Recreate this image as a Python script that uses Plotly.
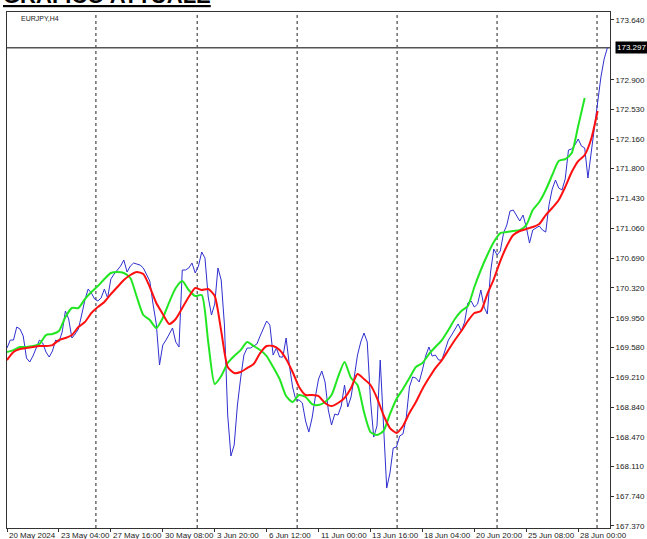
import numpy as np
import plotly.graph_objects as go

# ---- data (EURJPY H4 closes, one value per bar) ----
close = [
    169.575, 169.674, 169.674, 169.835, 169.811, 169.724, 169.451, 169.402, 169.476, 169.588,
    169.674, 169.637, 169.526, 169.464, 169.538, 169.674, 169.650, 169.773, 170.034, 169.935,
    169.699, 169.749, 169.811, 169.984, 170.170, 170.306, 170.257, 170.182, 170.158, 170.195,
    170.306, 170.195, 170.430, 170.492, 170.542, 170.591, 170.666, 170.517, 170.591, 170.628,
    170.616, 170.604, 170.567, 170.480, 170.405, 170.120, 169.873, 169.365, 169.612, 169.674,
    169.749, 169.823, 169.650, 169.588, 170.542, 170.542, 170.567, 170.628, 170.505, 170.591,
    170.765, 170.690, 170.207, 169.984, 170.120, 170.567, 170.418, 169.860, 168.745, 168.237,
    168.373, 168.869, 169.203, 169.488, 169.575, 169.575, 169.600, 169.625, 169.724, 169.823,
    169.910, 169.860, 169.488, 169.575, 169.464, 169.464, 169.699, 169.365, 169.092, 168.931,
    168.931, 168.894, 168.671, 168.534, 168.708, 168.968, 169.191, 169.290, 169.154, 168.807,
    168.621, 168.757, 168.745, 168.857, 169.117, 168.844, 168.968, 169.216, 169.488, 169.650,
    169.761, 169.650, 168.931, 168.472, 168.609, 169.426, 168.683, 167.840, 168.026, 168.336,
    168.348, 168.485, 168.510, 168.708, 169.092, 169.216, 169.203, 169.154, 169.303, 169.476,
    169.588, 169.476, 169.488, 169.426, 169.426, 169.538, 169.674, 169.736, 169.798, 169.873,
    169.786, 169.897, 170.133, 170.158, 170.083, 170.120, 170.294, 170.083, 169.997, 170.517,
    170.802, 170.728, 170.777, 171.000, 171.099, 171.273, 171.285, 171.223, 171.149, 171.223,
    171.075, 170.876, 171.037, 171.062, 171.087, 171.037, 171.012, 171.347, 171.545, 171.657,
    171.558, 171.533, 171.669, 172.029, 172.041, 172.091, 172.165, 172.078, 172.054, 171.682,
    172.004, 172.277, 172.586, 172.933, 173.157, 173.297,
]

# fast moving average (green), one value every 2 bars
ma_fast = [
    169.526, 169.550, 169.588, 169.588, 169.600, 169.625, 169.736, 169.749, 169.786, 169.959,
    170.071, 170.071, 170.182, 170.269, 170.343, 170.430, 170.505, 170.517, 170.505, 170.443,
    170.207, 169.984, 169.922, 169.823, 169.947, 170.145, 170.319, 170.405, 170.294, 170.220,
    170.232, 169.650, 169.129, 169.228, 169.389, 169.476, 169.550, 169.650, 169.600, 169.550,
    169.476, 169.340, 169.191, 168.980, 168.906, 168.993, 168.968, 168.881, 168.869, 168.906,
    168.993, 169.216, 169.402, 169.203, 169.117, 168.782, 168.534, 168.497, 168.547, 168.757,
    168.943, 169.067, 169.203, 169.340, 169.389, 169.501, 169.588, 169.674, 169.798, 169.935,
    170.034, 170.096, 170.331, 170.542, 170.728, 170.889, 171.000, 171.013, 171.025, 171.037,
    171.099, 171.285, 171.384, 171.533, 171.719, 171.892, 171.917, 171.992, 172.326, 172.673,
]

# slow moving average (red), one value every 2 bars
ma_slow = [
    169.426, 169.526, 169.563, 169.575, 169.588, 169.600, 169.600, 169.612, 169.674, 169.699,
    169.736, 169.835, 169.897, 170.009, 170.083, 170.145, 170.244, 170.331, 170.418, 170.480,
    170.517, 170.492, 170.331, 170.133, 169.997, 169.873, 169.935, 170.071, 170.207, 170.319,
    170.294, 170.306, 170.220, 169.786, 169.340, 169.265, 169.278, 169.327, 169.377, 169.513,
    169.600, 169.600, 169.550, 169.439, 169.278, 169.092, 168.993, 168.993, 168.980, 168.894,
    168.856, 168.894, 168.956, 169.080, 169.253, 169.191, 169.117, 168.956, 168.745, 168.584,
    168.522, 168.609, 168.770, 168.906, 169.067, 169.203, 169.327, 169.426, 169.550, 169.674,
    169.786, 169.910, 170.009, 170.034, 170.244, 170.430, 170.653, 170.839, 170.975, 171.025,
    171.050, 171.075, 171.112, 171.223, 171.310, 171.409, 171.570, 171.756, 171.892, 171.967,
    172.165, 172.512,
]

price_ticks = [173.640, 172.900, 172.530, 172.160, 171.800, 171.430, 171.060, 170.690,
               170.320, 169.950, 169.580, 169.210, 168.840, 168.470, 168.110, 167.740, 167.370]

time_labels = ["20 May 2024", "23 May 04:00", "27 May 16:00", "30 May 08:00", "3 Jun 20:00",
               "6 Jun 12:00", "11 Jun 00:00", "13 Jun 16:00", "18 Jun 04:00", "20 Jun 20:00",
               "25 Jun 08:00", "28 Jun 00:00"]
BARS_PER_LABEL = 16
grid_bars = [27.4, 58.6, 89.4, 120.2, 151.0, 181.8]  # week separators (bar positions)

current_price = close[-1]

# ---- figure ----
x_close = np.arange(len(close))
x_fast = np.arange(len(ma_fast)) * 2
x_slow = np.arange(len(ma_slow)) * 2
tick_bars = [i * BARS_PER_LABEL for i in range(len(time_labels))]

FONT = "Liberation Sans, Arial"

fig = go.Figure()
fig.add_trace(go.Scatter(x=x_close, y=close, mode="lines",
                         line=dict(color="#2f2fd0", width=1), hoverinfo="skip"))
fig.add_trace(go.Scatter(x=x_fast, y=ma_fast, mode="lines",
                         line=dict(color="#22e622", width=2, shape="spline", smoothing=0.6),
                         hoverinfo="skip"))
fig.add_trace(go.Scatter(x=x_slow, y=ma_slow, mode="lines",
                         line=dict(color="#ff1010", width=2, shape="spline", smoothing=0.6),
                         hoverinfo="skip"))

shapes = []
for gb in grid_bars:
    shapes.append(dict(type="line", xref="x", yref="paper", x0=gb, x1=gb, y0=0, y1=1,
                       line=dict(color="#222222", width=1, dash="dot"), layer="below"))
shapes.append(dict(type="line", xref="paper", yref="y", x0=0, x1=1,
                   y0=current_price, y1=current_price,
                   line=dict(color="#555555", width=1.5), layer="below"))

annotations = []
for tb, lab in zip(tick_bars, time_labels):
    annotations.append(dict(x=tb, y=0, xref="x", yref="paper", text=lab, showarrow=False,
                            xanchor="left", yanchor="top", xshift=0, yshift=-1,
                            font=dict(family=FONT, size=8, color="#222222")))
annotations.append(dict(x=0.02, y=1, xref="paper", yref="paper", text="EURJPY,H4",
                        showarrow=False, xanchor="left", yanchor="top", yshift=-1,
                        font=dict(family=FONT, size=7, color="#222222")))
annotations.append(dict(x=1, y=current_price, xref="paper", yref="y",
                        text="%.3f" % current_price, showarrow=False,
                        xanchor="left", yanchor="middle", xshift=5,
                        bgcolor="#000000", borderpad=1,
                        font=dict(family=FONT, size=8, color="#ffffff")))
annotations.append(dict(x=0, y=1, xref="paper", yref="paper",
                        text="<b><u>GRAFICO ATTUALE</u></b>", showarrow=False,
                        xanchor="left", yanchor="bottom", xshift=-6, yshift=2,
                        font=dict(family=FONT, size=22, color="#000000")))

fig.update_layout(
    width=647, height=539,
    margin=dict(l=7, r=37, t=12, b=11, autoexpand=False),
    paper_bgcolor="white", plot_bgcolor="white",
    showlegend=False,
    shapes=shapes,
    annotations=annotations,
    xaxis=dict(range=[0, 185.8], showgrid=False, zeroline=False, automargin=False,
               showline=True, linecolor="#333333", linewidth=1, mirror=True,
               ticks="outside", ticklen=3, tickcolor="#333333",
               tickvals=tick_bars, showticklabels=False),
    yaxis=dict(range=[167.345, 173.739], side="right", showgrid=False, zeroline=False,
               automargin=False,
               showline=True, linecolor="#333333", linewidth=1, mirror=True,
               ticks="outside", ticklen=3, tickcolor="#333333",
               tickvals=price_ticks, ticktext=["%.3f" % v for v in price_ticks],
               tickfont=dict(family=FONT, size=8, color="#222222")),
)

fig.write_html("out.html", config={"displayModeBar": False},
               post_script="document.body.style.margin='0';document.body.style.padding='0';")
